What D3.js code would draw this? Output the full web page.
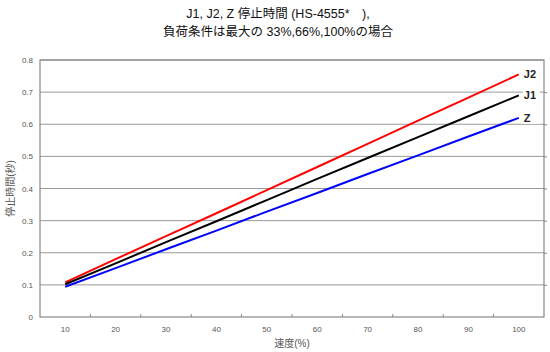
<!DOCTYPE html>
<html>
<head>
    <meta charset="utf-8" />
    <script src="https://d3js.org/d3.v7.min.js"></script>
    <style>
        body { margin: 0; background: #fff; }
        text { font-family: "Liberation Sans", "Noto Sans CJK JP", sans-serif; }
    </style>
</head>
<body>

<svg id="svg"></svg>

<script>

// speed (%) categories
let speeds = [10, 20, 30, 40, 50, 60, 70, 80, 90, 100];

// stop time (s) per series
let j2Values = [0.108, 0.180, 0.252, 0.323, 0.395, 0.467, 0.539, 0.611, 0.683, 0.755];
let j1Values = [0.102, 0.167, 0.233, 0.298, 0.364, 0.430, 0.495, 0.560, 0.625, 0.690];
let zValues  = [0.094, 0.152, 0.211, 0.269, 0.328, 0.386, 0.445, 0.503, 0.562, 0.620];

let seriesNames = ["J2", "J1", "Z"];
let seriesColors = ["#ff0000", "#000000", "#0000ff"];

let yTicks = [0, 0.1, 0.2, 0.3, 0.4, 0.5, 0.6, 0.7, 0.8];

let titleLines = ["J1, J2, Z 停止時間 (HS-4555*\u3000),", "負荷条件は最大の 33%,66%,100%の場合"];
let xTitle = "速度(%)";
let yTitle = "停止時間(秒)";

let W = 550, H = 352;
let plotL = 40, plotR = 544, plotT = 60, plotB = 317;

let svg = d3.select("#svg").attr("width", W).attr("height", H);

let x = d3.scaleBand().domain(speeds).range([plotL, plotR]).padding(0);
let y = d3.scaleLinear().domain([0, 0.8]).range([plotB, plotT]);

// grid
svg.selectAll(".grid")
    .data(yTicks.slice(1))
    .enter()
    .append("line")
    .attr("x1", plotL).attr("x2", plotR)
    .attr("y1", d => y(d)).attr("y2", d => y(d))
    .attr("stroke", "#999")
    .attr("stroke-width", 1);

// plot border
svg.append("rect")
    .attr("x", plotL).attr("y", plotT)
    .attr("width", plotR - plotL).attr("height", plotB - plotT)
    .attr("fill", "none")
    .attr("stroke", "#888")
    .attr("stroke-width", 1.2);

// left axis labels
let yAxis = svg.append("g")
    .attr("transform", `translate(${plotL},0)`)
    .call(d3.axisLeft(y).tickValues(yTicks).tickSize(0).tickPadding(7)
        .tickFormat(d => d === 0 ? "0" : d3.format(".1f")(d)));
yAxis.select(".domain").remove();
yAxis.selectAll("text").attr("fill", "#555").style("font-size", "8px");

// right small ticks
let yAxisR = svg.append("g")
    .attr("transform", `translate(${plotR},0)`)
    .call(d3.axisRight(y).tickValues(yTicks.slice(1, -1)).tickSize(3).tickFormat(""));
yAxisR.select(".domain").remove();
yAxisR.selectAll("line").attr("stroke", "#888");

// bottom labels
let xAxis = svg.append("g")
    .attr("transform", `translate(0,${plotB})`)
    .call(d3.axisBottom(x).tickSize(0).tickPadding(9));
xAxis.select(".domain").remove();
xAxis.selectAll("text").attr("fill", "#555").style("font-size", "8px");

// inner ticks at category boundaries
svg.selectAll(".xtick")
    .data(speeds.slice(1))
    .enter()
    .append("line")
    .attr("x1", d => x(d)).attr("x2", d => x(d))
    .attr("y1", plotB).attr("y2", plotB - 3)
    .attr("stroke", "#888");

// lines
let allSeries = [j2Values, j1Values, zValues];
let line = d3.line()
    .x((d, i) => x(speeds[i]) + x.bandwidth() / 2)
    .y(d => y(d));

svg.selectAll(".series")
    .data(allSeries)
    .enter()
    .append("path")
    .attr("d", d => line(d))
    .attr("fill", "none")
    .attr("stroke", (d, i) => seriesColors[i])
    .attr("stroke-width", 2);

// end labels
let lastX = x(speeds[speeds.length - 1]) + x.bandwidth() / 2;
let labelG = svg.selectAll(".lbl")
    .data(allSeries)
    .enter()
    .append("g")
    .attr("transform", d => `translate(${lastX + 5},${y(d[d.length - 1])})`);
labelG.append("rect")
    .attr("x", -1).attr("y", -6)
    .attr("width", 17).attr("height", 12)
    .attr("fill", "#fff");
labelG.append("text")
    .attr("dy", "0.35em")
    .attr("fill", "#222")
    .style("font-size", "11px")
    .style("font-weight", "bold")
    .text((d, i) => seriesNames[i]);

// titles
svg.selectAll(".title")
    .data(titleLines)
    .enter()
    .append("text")
    .attr("x", 278)
    .attr("y", (d, i) => 18 + i * 18)
    .attr("text-anchor", "middle")
    .attr("fill", "#111")
    .style("font-size", "12.5px")
    .text(d => d);

svg.append("text")
    .attr("x", (plotL + plotR) / 2)
    .attr("y", 347)
    .attr("text-anchor", "middle")
    .attr("fill", "#555")
    .style("font-size", "10px")
    .text(xTitle);

svg.append("text")
    .attr("transform", `translate(14,${(plotT + plotB) / 2}) rotate(-90)`)
    .attr("text-anchor", "middle")
    .attr("fill", "#555")
    .style("font-size", "10px")
    .text(yTitle);

</script>

</body>
</html>
